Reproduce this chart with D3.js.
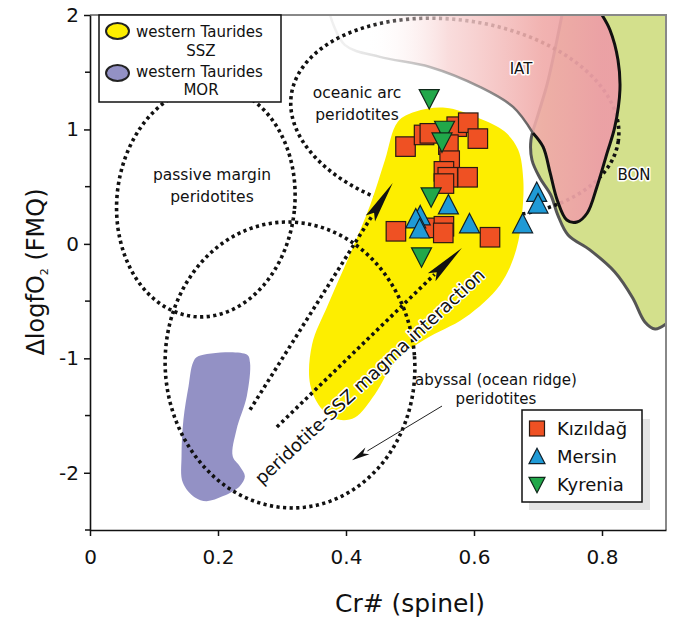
<!DOCTYPE html>
<html><head><meta charset="utf-8">
<script src="https://cdn.jsdelivr.net/npm/d3@7"></script>
<style>body{margin:0;background:#fff}svg{display:block;font-family:"DejaVu Sans",Verdana,sans-serif}</style>
</head><body><svg id="c" width="673" height="619"></svg>
<script>
// ---------- data ----------
const xTicks = [0, 0.2, 0.4, 0.6, 0.8];
const xTickLabels = ["0", "0.2", "0.4", "0.6", "0.8"];
const yTicks = [-2, -1, 0, 1, 2];
const yTickLabels = ["-2", "-1", "0", "1", "2"];
const yMinorTicks = [-2.5, -1.5, -0.5, 0.5, 1.5];

const kizildagCr  = [0.493,0.522,0.531,0.573,0.591,0.606,0.560,0.562,0.553,0.559,0.590,0.553,0.478,0.532,0.553,0.552,0.625];
const kizildagFMQ = [0.85,0.952,0.966,1.024,1.059,0.92,0.867,0.727,0.634,0.582,0.582,0.527,0.11,0.14,0.154,0.096,0.058];
const mersinCr  = [0.560,0.516,0.509,0.515,0.593,0.676,0.698,0.700];
const mersinFMQ = [0.335,0.24,0.213,0.125,0.17,0.17,0.445,0.343];
const kyreniaCr  = [0.530,0.554,0.550,0.533,0.518];
const kyreniaFMQ = [1.275,0.998,0.896,0.416,-0.108];

// field outlines [Cr#, dlogfO2]
const sszOutline = [[0.481,1.068],[0.508,1.155],[0.555,1.19],[0.606,1.103],[0.648,0.981],[0.669,0.822],[0.677,0.562],[0.675,0.256],[0.666,-0.05],[0.641,-0.356],[0.586,-0.644],[0.523,-0.836],[0.477,-1.028],[0.445,-1.316],[0.414,-1.517],[0.388,-1.535],[0.363,-1.448],[0.344,-1.229],[0.347,-0.88],[0.372,-0.53],[0.406,-0.093],[0.438,0.343],[0.461,0.736]];
const morOutline = [[0.169,-0.982],[0.245,-0.967],[0.25,-1.037],[0.245,-1.331],[0.229,-1.622],[0.223,-1.855],[0.234,-1.942],[0.242,-2.03],[0.234,-2.117],[0.208,-2.204],[0.182,-2.248],[0.164,-2.216],[0.145,-2.085],[0.143,-1.855],[0.146,-1.534],[0.154,-1.244],[0.161,-1.037]];
const bonBoundary = [[0.7375,2.0],[0.728,1.738],[0.714,1.389],[0.700,1.127],[0.689,0.908],[0.6906,0.733],[0.703,0.576],[0.720,0.427],[0.731,0.252],[0.747,0.078],[0.781,-0.052],[0.820,-0.245],[0.848,-0.472],[0.867,-0.682],[0.883,-0.744],[0.9,-0.70]];
const iatBlack = [[0.80,2.0],[0.8125,1.869],[0.825,1.607],[0.828,1.345],[0.820,1.022],[0.808,0.795],[0.792,0.497],[0.777,0.27],[0.761,0.191],[0.745,0.209],[0.730,0.384],[0.719,0.62],[0.708,0.847],[0.692,0.969]];
const iatGrey = [[0.692,0.969],[0.661,1.197],[0.609,1.372],[0.531,1.546],[0.453,1.634],[0.398,1.739],[0.375,2.0]];

// dotted fields: centre, half-axes (data units), tilt (deg)
const fieldNames = ["passive", "oceanic", "abyssal"];
const fieldCx = [0.181, 0.570, 0.3125];
const fieldCy = [0.37, 1.10, -1.058];
const fieldRx = [0.139, 0.258, 0.195];
const fieldRy = [1.01, 0.857, 1.25];
const fieldTilt = [6, 8, -4];

// arrows [start, tip]
const arrowThick = [[[0.25,-1.45],[0.473,0.532]], [[0.292,-1.6],[0.581,-0.036]]];
const arrowThin = [[0.55,-1.417],[0.4094,-1.89]];

// ---------- drawing ----------
const svg = d3.select("#c");
const x = d3.scaleLinear().domain([0, 0.9]).range([90, 666]);
const y = d3.scaleLinear().domain([-2.5, 2]).range([530, 15]);
const defs = svg.append("defs");
defs.append("clipPath").attr("id","plot").append("rect")
  .attr("x", x(0)).attr("y", y(2)).attr("width", x(0.9)-x(0)).attr("height", y(-2.5)-y(2));
const g = defs.append("linearGradient").attr("id","iatGrad").attr("gradientUnits","userSpaceOnUse")
  .attr("x1", x(0.43)).attr("x2", x(0.80)).attr("y1",0).attr("y2",0);
g.append("stop").attr("offset","0").attr("stop-color","#ffffff").attr("stop-opacity",0);
g.append("stop").attr("offset","0.35").attr("stop-color","#f8d4d4").attr("stop-opacity",0.8);
g.append("stop").attr("offset","0.75").attr("stop-color","#f0aaa8").attr("stop-opacity",0.9);
g.append("stop").attr("offset","1").attr("stop-color","#ec9ea6").attr("stop-opacity",0.95);
const gl = defs.append("linearGradient").attr("id","iatLine").attr("gradientUnits","userSpaceOnUse")
  .attr("x1", x(0.40)).attr("x2", x(0.69)).attr("y1",0).attr("y2",0);
gl.append("stop").attr("offset","0").attr("stop-color","#999").attr("stop-opacity",0.15);
gl.append("stop").attr("offset","0.5").attr("stop-color","#888").attr("stop-opacity",0.6);
gl.append("stop").attr("offset","1").attr("stop-color","#555").attr("stop-opacity",0.9);

const P = d => [x(d[0]), y(d[1])];
const closed = d3.line().x(d=>x(d[0])).y(d=>y(d[1])).curve(d3.curveCatmullRomClosed.alpha(0.5));
const open = d3.line().x(d=>x(d[0])).y(d=>y(d[1])).curve(d3.curveCatmullRom.alpha(0.5));

const plot = svg.append("g").attr("clip-path","url(#plot)");

// BON field
plot.append("path")
  .attr("d", open(bonBoundary) + `L${x(0.9)},${y(-0.70)}L${x(0.9)},${y(2)}Z`)
  .attr("fill","#d3e08c").attr("stroke","none");
plot.append("path").attr("d", open(bonBoundary)).attr("fill","none")
  .attr("stroke","#555").attr("stroke-width",3);

function ellipsePts(i){
  const cx = x(fieldCx[i]), cy = y(fieldCy[i]);
  const rx = x(fieldCx[i]+fieldRx[i]) - cx, ry = y(fieldCy[i]-fieldRy[i]) - cy;
  const th = fieldTilt[i]*Math.PI/180;
  return d3.range(0, 2*Math.PI, Math.PI/90).map(t => {
    const ex = rx*Math.cos(t), ey = ry*Math.sin(t);
    return [cx + ex*Math.cos(th) - ey*Math.sin(th), cy + ex*Math.sin(th) + ey*Math.cos(th)];
  });
}
const pxClosed = d3.line().curve(d3.curveLinearClosed);
function drawField(i){
  plot.append("path").attr("d", pxClosed(ellipsePts(i))).attr("fill","none")
    .attr("stroke","#111").attr("stroke-width",3.6).attr("stroke-dasharray","3.2 3.4");
}
drawField(1);

// IAT field
const iatAll = iatBlack.concat(iatGrey.slice(1));
plot.append("path")
  .attr("d", open(iatAll) + `L${x(0.375)},${y(2)}Z`)
  .attr("fill","url(#iatGrad)");
plot.append("path").attr("d", open(iatBlack)).attr("fill","none").attr("stroke","#111").attr("stroke-width",3);
plot.append("path").attr("d", open(iatGrey)).attr("fill","none").attr("stroke","url(#iatLine)").attr("stroke-width",2.5);

// SSZ & MOR fields
plot.append("path").attr("d", closed(sszOutline)).attr("fill","#fdee00");
plot.append("path").attr("d", closed(morOutline)).attr("fill","#9391c5");

drawField(0); drawField(2);

// arrows
arrowThick.forEach(a => {
  const [x0,y0] = P(a[0]), [x1,y1] = P(a[1]);
  const L = Math.hypot(x1-x0, y1-y0), ux = (x1-x0)/L, uy = (y1-y0)/L;
  const hl = 42, hw = 5.5;
  const bx = x1 - ux*hl, by = y1 - uy*hl;
  plot.append("line").attr("x1",x0).attr("y1",y0).attr("x2",bx+ux*4).attr("y2",by+uy*4)
    .attr("stroke","#111").attr("stroke-width",3.6).attr("stroke-dasharray","3.2 3.4");
  plot.append("path").attr("d", `M${x1},${y1}L${bx - uy*hw},${by + ux*hw}L${bx+ux*7},${by+uy*7}L${bx + uy*hw},${by - ux*hw}Z`)
    .attr("fill","#111");
});
{
  const [x0,y0] = P(arrowThin[0]), [x1,y1] = P(arrowThin[1]);
  const L = Math.hypot(x1-x0, y1-y0), ux = (x1-x0)/L, uy = (y1-y0)/L;
  const hl = 18, hw = 4;
  const bx = x1 - ux*hl, by = y1 - uy*hl;
  plot.append("line").attr("x1",x0).attr("y1",y0).attr("x2",bx).attr("y2",by).attr("stroke","#222").attr("stroke-width",1);
  plot.append("path").attr("d", `M${x1},${y1}L${bx - uy*hw},${by + ux*hw}L${bx+ux*5},${by+uy*5}L${bx + uy*hw},${by - ux*hw}Z`).attr("fill","#111");
}

// field labels
function label(txt, px, py, size, opts={}){
  const t = svg.append("text").attr("x",px).attr("y",py).attr("font-size",size)
    .attr("text-anchor", opts.anchor || "middle").attr("fill","#111").text(txt);
  if (opts.halo) t.attr("stroke","#fff").attr("stroke-width",3).attr("paint-order","stroke").attr("stroke-linejoin","round");
  if (opts.rot !== undefined) t.attr("transform",`rotate(${opts.rot},${px},${py})`);
  return t;
}
label("oceanic arc", 357, 98, 15.5);
label("peridotites", 357, 120, 15.5);
label("passive margin", 212, 180, 15.5);
label("peridotites", 212, 202, 15.5);
label("abyssal (ocean ridge)", 496, 385, 15);
label("peridotites", 496, 404, 15);
label("IAT", 521, 74, 15, {halo:true});
label("BON", 634, 180, 15, {halo:true});
label("peridotite-SSZ magma interaction", 374, 381, 18, {halo:true, rot:-43});

// markers
const sq = 19.5;
plot.selectAll(".kz").data(kizildagCr).join("rect")
  .attr("x",(d,i)=>x(d)-sq/2).attr("y",(d,i)=>y(kizildagFMQ[i])-sq/2)
  .attr("width",sq).attr("height",sq).attr("fill","#ef5123").attr("stroke","#2a1a12").attr("stroke-width",1.2);
const tri = (cx,cy,s,up) => up
  ? `M${cx},${cy-s*0.55}L${cx+s/2},${cy+s*0.42}L${cx-s/2},${cy+s*0.42}Z`
  : `M${cx},${cy+s*0.55}L${cx+s/2},${cy-s*0.42}L${cx-s/2},${cy-s*0.42}Z`;
plot.selectAll(".ms").data(mersinCr).join("path")
  .attr("d",(d,i)=>tri(x(d), y(mersinFMQ[i]), 20, true))
  .attr("fill","#1f9ad6").attr("stroke","#10202a").attr("stroke-width",1.2);
plot.selectAll(".ky").data(kyreniaCr).join("path")
  .attr("d",(d,i)=>tri(x(d), y(kyreniaFMQ[i]), 20, false))
  .attr("fill","#21a84a").attr("stroke","#10281a").attr("stroke-width",1.2);

// frame (top/right)
svg.append("path").attr("d",`M${x(0)},${y(2)}H${x(0.9)}V${y(-2.5)}`).attr("fill","none")
  .attr("stroke","#888").attr("stroke-width",2);

// axes
const xAxis = svg.append("g").attr("transform",`translate(0,${y(-2.5)})`)
  .call(d3.axisBottom(x).tickValues(xTicks).tickFormat((d,i)=>xTickLabels[i]).tickSize(6).tickSizeOuter(0).tickPadding(14));
xAxis.select(".domain").attr("stroke","#111").attr("stroke-width",1.6);
xAxis.selectAll(".tick line").attr("stroke","#111").attr("stroke-width",1.5);
xAxis.selectAll("text").attr("font-size",20).attr("fill","#111").attr("font-family","DejaVu Sans");
const yAxis = svg.append("g").attr("transform",`translate(${x(0)},0)`)
  .call(d3.axisLeft(y).tickValues(yTicks).tickFormat((d,i)=>yTickLabels[i]).tickSize(6).tickSizeOuter(0).tickPadding(5));
yAxis.select(".domain").attr("stroke","#111").attr("stroke-width",1.6);
yAxis.selectAll(".tick line").attr("stroke","#111").attr("stroke-width",1.5);
yAxis.selectAll("text").attr("font-size",20).attr("fill","#111").attr("font-family","DejaVu Sans");
yAxis.selectAll(".minor").data(yMinorTicks).join("line").attr("class","minor")
  .attr("x1",-5).attr("x2",0).attr("y1",d=>y(d)).attr("y2",d=>y(d)).attr("stroke","#111").attr("stroke-width",1.5);

svg.append("text").attr("x", 410).attr("y", 612).attr("text-anchor","middle").attr("font-size",25).attr("fill","#111").text("Cr# (spinel)");
const yt = svg.append("text").attr("transform","translate(44,272) rotate(-90)").attr("text-anchor","middle").attr("font-size",24).attr("fill","#111");
yt.append("tspan").text("\u0394logfO");
yt.append("tspan").attr("font-size",11).attr("dy",4).text("2");
yt.append("tspan").attr("dy",-4).text(" (FMQ)");

// legend top-left
svg.append("rect").attr("x",99).attr("y",15).attr("width",182).attr("height",87).attr("fill","#fff").attr("stroke","#111").attr("stroke-width",1.5);
svg.append("ellipse").attr("cx",117.5).attr("cy",31).attr("rx",11.5).attr("ry",8).attr("fill","#fdee00").attr("stroke","#222").attr("stroke-width",2);
svg.append("ellipse").attr("cx",117.5).attr("cy",73).attr("rx",11.5).attr("ry",8).attr("fill","#9391c5").attr("stroke","#222").attr("stroke-width",2);
label("western Taurides", 136, 37, 15, {anchor:"start"});
label("SSZ", 201, 56, 15);
label("western Taurides", 136, 77, 15, {anchor:"start"});
label("MOR", 201, 95, 15);

// legend bottom-right
svg.append("rect").attr("x",529).attr("y",419).attr("width",121).attr("height",91).attr("fill","#e3e3e3");
svg.append("rect").attr("x",522).attr("y",410).attr("width",120).attr("height",92).attr("fill","#fff").attr("stroke","#111").attr("stroke-width",1.5);
svg.append("rect").attr("x",529.5).attr("y",421).attr("width",15).attr("height",15).attr("fill","#ef5123").attr("stroke","#2a1a12").attr("stroke-width",1.2);
svg.append("path").attr("d",tri(537,457,16,true)).attr("fill","#1f9ad6").attr("stroke","#10202a").attr("stroke-width",1.2);
svg.append("path").attr("d",tri(537,484,16,false)).attr("fill","#21a84a").attr("stroke","#10281a").attr("stroke-width",1.2);
label("Kızıldağ", 557, 435, 18, {anchor:"start"});
label("Mersin", 557, 463, 18, {anchor:"start"});
label("Kyrenia", 557, 491, 18, {anchor:"start"});
</script></body></html>
